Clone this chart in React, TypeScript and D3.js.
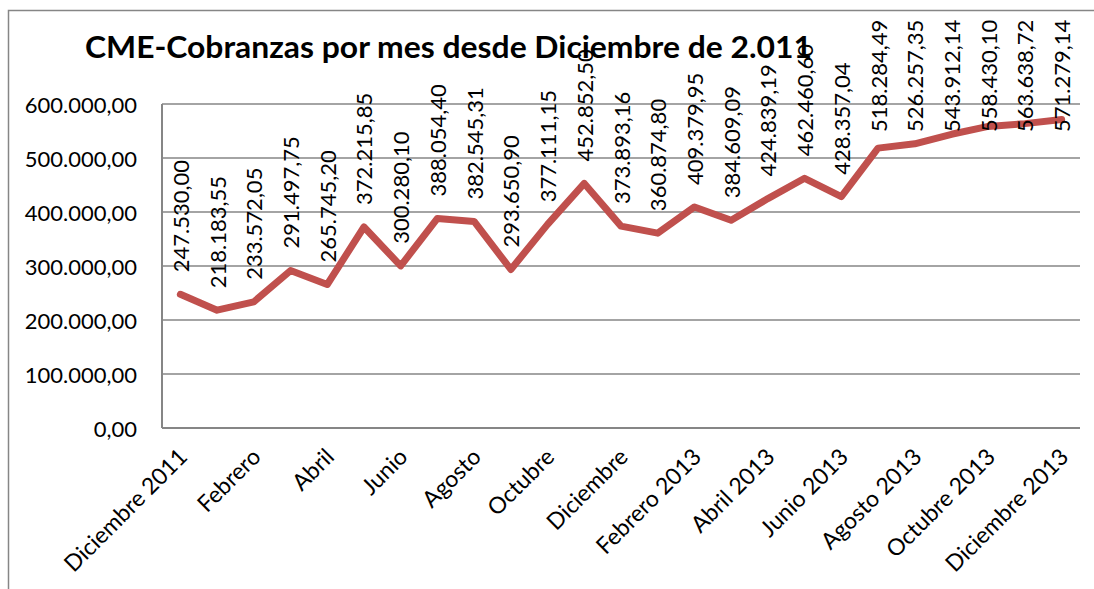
import React from "react";
import * as d3 from "d3";

const months: string[] = [
  "Diciembre 2011", "Enero", "Febrero", "Marzo", "Abril", "Mayo", "Junio", "Julio",
  "Agosto", "Septiembre", "Octubre", "Noviembre", "Diciembre", "Enero 2013",
  "Febrero 2013", "Marzo 2013", "Abril 2013", "Mayo 2013", "Junio 2013", "Julio 2013",
  "Agosto 2013", "Septiembre 2013", "Octubre 2013", "Noviembre 2013", "Diciembre 2013",
];
const cobranzas: number[] = [
  247530.0, 218183.55, 233572.05, 291497.75, 265745.2, 372215.85, 300280.1,
  388054.4, 382545.31, 293650.9, 377111.15, 452852.5, 373893.16, 360874.8,
  409379.95, 384609.09, 424839.19, 462460.6, 428357.04, 518284.49, 526257.35,
  543912.14, 558430.1, 563638.72, 571279.14,
];
const yTicks: number[] = [0, 100000, 200000, 300000, 400000, 500000, 600000];
const title = "CME-Cobranzas por mes desde Diciembre de 2.011";

const W = 1094;
const H = 589;
const FONT = "Lato, 'Open Sans', sans-serif";

const locale = d3.formatLocale({ decimal: ",", thousands: ".", grouping: [3], currency: ["", ""] });
const fmt = (v: number) => locale.format(",.2f")(v);

export default function App() {
  const left = 162, right = 1080, top = 104, bottom = 428;
  const n = cobranzas.length;
  const x = d3.scaleBand<number>().domain(d3.range(n)).range([left, right]);
  const cx = (i: number) => (x(i) as number) + x.bandwidth() / 2;
  const y = d3.scaleLinear().domain([0, 600000]).range([bottom, top]);
  const line = d3.line<number>().x((_, i) => cx(i)).y((d) => y(d));
  const labelLen = 113;
  const labelTopMin = 19;

  return (
    <svg width={W} height={H} style={{ position: "absolute", left: 0, top: 0, background: "#fff" }}>
      <rect x={8.5} y={10.5} width={W + 20} height={H + 20} fill="#fff" stroke="#868686" strokeWidth={1.5} />
      {yTicks.map((t) => (
        <g key={t}>
          {t > 0 && <line x1={left} x2={right} y1={y(t)} y2={y(t)} stroke="#868686" strokeWidth={1.5} />}
          <text x={137} y={y(t)} textAnchor="end" dominantBaseline="central" fontFamily={FONT} fontSize={22} fill="#000">
            {fmt(t)}
          </text>
        </g>
      ))}
      <line x1={left} x2={left} y1={top} y2={bottom} stroke="#868686" strokeWidth={2} />
      <line x1={left} x2={right} y1={bottom} y2={bottom} stroke="#868686" strokeWidth={2} />
      <path d={line(cobranzas) || ""} fill="none" stroke="#C0504D" strokeWidth={7} strokeLinejoin="round" strokeLinecap="round" />
      {cobranzas.map((v, i) => (
        <text
          key={i}
          transform={`translate(${cx(i)},${Math.max(y(v) - 22, labelTopMin + labelLen)}) rotate(-90)`}
          textAnchor="start"
          dominantBaseline="central"
          fontFamily={FONT}
          fontSize={22}
          fill="#000"
        >
          {fmt(v)}
        </text>
      ))}
      {months.map((m, i) =>
        i % 2 === 0 ? (
          <text
            key={m}
            transform={`translate(${cx(i) + 2},${452}) rotate(-45)`}
            textAnchor="end"
            dominantBaseline="central"
            fontFamily={FONT}
            fontSize={23}
            fill="#000"
          >
            {m}
          </text>
        ) : null
      )}
      <text x={85} y={58} fontFamily={FONT} fontWeight="bold" fontSize={30} textLength={727} lengthAdjust="spacingAndGlyphs" fill="#000">
        {title}
      </text>
    </svg>
  );
}
